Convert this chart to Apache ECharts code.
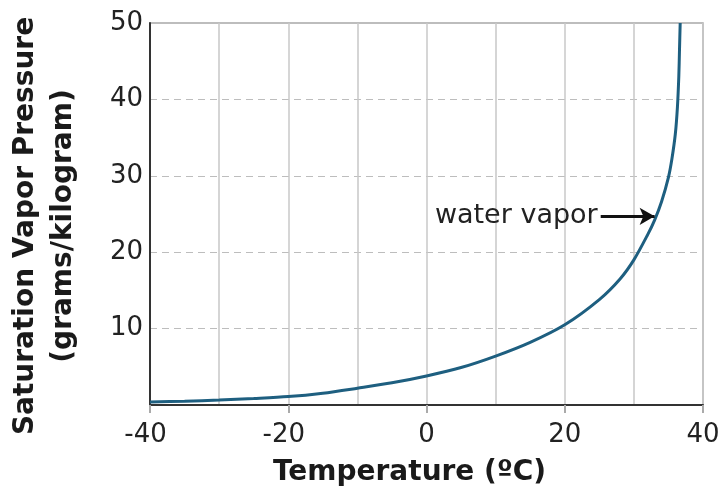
<!DOCTYPE html>
<html>
<head>
<meta charset="utf-8">
<script src="https://cdn.jsdelivr.net/npm/echarts@6/dist/echarts.min.js"></script>
<style>
  html, body { margin: 0; padding: 0; background: #fff; }
  #chart { width: 723px; height: 494px; }
</style>
</head>
<body>
<div id="chart"></div>
<script>
// Temperature (°C) and saturation vapor amount (g/kg) along the curve
const temperatures = [-40, -35, -30, -25, -20, -15, -10, -5, 0, 5, 10, 15, 20, 25, 28, 30, 32, 33, 34, 35, 35.5, 36, 36.3, 36.5, 36.6, 36.7];
const vaporValues  = [0.4, 0.5, 0.65, 0.85, 1.1, 1.55, 2.2, 2.9, 3.8, 4.9, 6.4, 8.2, 10.5, 13.8, 16.5, 19.0, 22.3, 24.2, 26.6, 29.8, 32.2, 35.5, 39, 43, 46.5, 50];

// Axis ranges and ticks
const xTicks = [-40, -20, 0, 20, 40];
const yTicks = [10, 20, 30, 40, 50];

// Annotation arrow (label text, start and tip in data units)
const arrowLabel = 'water vapor';
const arrowFrom = [25.2, 24.7];
const arrowTo = [33.0, 24.7];

const font = 'DejaVu Sans';
const chart = echarts.init(document.getElementById('chart'), null, { renderer: 'canvas' });

chart.setOption({
  animation: false,
  backgroundColor: '#ffffff',
  grid: {
    left: 150, right: 20, top: 23, bottom: 89,
    outerBoundsMode: 'none',
    show: true, borderColor: '#a8a8a8', borderWidth: 1.5
  },
  xAxis: {
    type: 'value',
    min: xTicks[0], max: xTicks[xTicks.length - 1], interval: 20,
    name: 'Temperature (ºC)',
    nameLocation: 'middle',
    nameGap: 54,
    nameTextStyle: { fontFamily: font, fontWeight: 'bold', fontSize: 28, color: '#1a1a1a', padding: [0, 34, 0, 0] },
    axisLine: { show: true, onZero: false, lineStyle: { color: '#333', width: 2 } },
    axisTick: { show: true, length: 8, lineStyle: { color: '#aaa', width: 2 } },
    axisLabel: {
      fontFamily: font, fontSize: 26, color: '#222', margin: 17,
      // keep the digits centred on the tick; the minus sign hangs to the left
      formatter: v => (v < 0 ? String(v) + '{sp| }' : String(v)),
      rich: { sp: { width: 9, fontFamily: font, fontSize: 26 } }
    },
    splitLine: { show: true, lineStyle: { color: '#c8c8c8', width: 1.5 } },
    minorTick: { show: false, splitNumber: 2 },
    minorSplitLine: { show: true, lineStyle: { color: '#c8c8c8', width: 1.5 } }
  },
  yAxis: {
    type: 'value',
    min: 0, max: yTicks[yTicks.length - 1], interval: 10,
    name: 'Saturation Vapor Pressure\n(grams/kilogram)',
    nameLocation: 'middle',
    nameGap: 67,
    nameTextStyle: {
      fontFamily: font, fontWeight: 'bold', fontSize: 28, color: '#1a1a1a', lineHeight: 38,
      padding: [0, 24, 0, 0]
    },
    axisLine: { show: true, onZero: false, lineStyle: { color: '#333', width: 2 } },
    axisTick: { show: false },
    axisLabel: {
      fontFamily: font, fontSize: 26, color: '#222', margin: 7,
      formatter: v => (yTicks.indexOf(v) >= 0 ? String(v) : '')
    },
    splitLine: { show: true, lineStyle: { color: '#bdbdbd', width: 1.2, type: [7, 5] } }
  },
  series: [{
    type: 'line',
    data: temperatures.map((t, i) => [t, vaporValues[i]]),
    showSymbol: false,
    smooth: 0.3,
    lineStyle: { color: '#1e5f80', width: 3 },
    markLine: {
      silent: true,
      symbol: ['none', 'arrow'],
      symbolSize: [13, 15],
      lineStyle: { color: '#111', width: 3, type: 'solid' },
      label: {
        show: true, position: 'start', distance: 3,
        formatter: arrowLabel,
        fontFamily: font, fontSize: 27, color: '#222'
      },
      data: [[{ coord: arrowFrom }, { coord: arrowTo }]]
    }
  }]
});
</script>
</body>
</html>
